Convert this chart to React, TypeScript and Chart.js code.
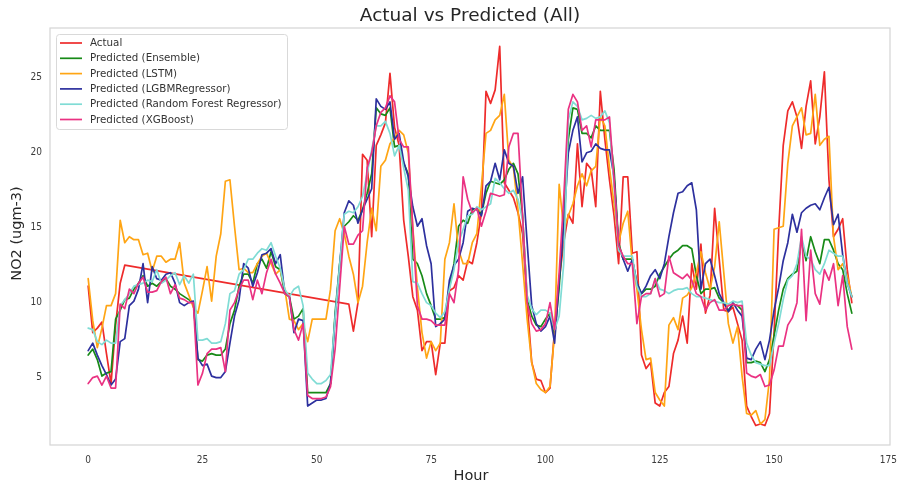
import React, { useEffect, useRef } from "react";
import { Chart, registerables } from "chart.js";

Chart.register(...registerables);

// Hourly NO2 (ugm-3): measured values and model predictions, hours 0..167.
// Measured values are missing for hours 9-56 (the line spans the gap).
const actual = [
  11.1, 8.0, 8.3, 8.7, 6.6, 4.6, 8.5, 11.3, 12.5, null, null, null,
  null, null, null, null, null, null, null, null, null, null, null, null,
  null, null, null, null, null, null, null, null, null, null, null, null,
  null, null, null, null, null, null, null, null, null, null, null, null,
  null, null, null, null, null, null, null, null, null, 9.9, 8.1, 10.0,
  19.9, 19.5, 14.4, 20.5, 21.2, 22.0, 25.3, 21.7, 20.5, 15.5, 13.1, 10.4,
  9.5, 6.8, 7.4, 7.4, 5.2, 7.3, 7.3, 10.8, 11.0, 11.8, 11.5, 12.8,
  12.6, 14.0, 16.0, 24.1, 23.3, 24.2, 27.1, 18.0, 17.5, 17.0, 16.0, 14.6,
  10.0, 6.0, 4.9, 4.8, 4.0, 4.3, 8.2, 11.5, 14.0, 15.9, 15.3, 20.6,
  16.4, 19.3, 18.9, 16.4, 24.1, 20.9, 18.2, 15.8, 12.6, 18.4, 18.4, 13.3,
  13.4, 6.5, 5.6, 6.0, 3.3, 3.1, 4.0, 4.4, 6.6, 7.5, 9.1, 7.3,
  12.6, 10.9, 13.9, 9.3, 10.5, 16.3, 12.9, 9.5, 9.4, 9.7, 8.6, 7.5,
  3.1, 2.4, 1.8, 1.9, 1.8, 2.6, 8.0, 14.8, 20.5, 22.8, 23.4, 22.4,
  20.3, 23.1, 24.8, 20.6, 22.4, 25.4, 18.2, 14.4, 14.9, 15.6, 12.2, 10.0,
];

const ensemble = [
  6.5, 6.9, 6.2, 5.1, 5.3, 5.4, 8.9, 9.5, 10.2, 10.3, 10.9, 11.3,
  11.8, 11.1, 11.3, 11.1, 11.4, 11.6, 11.1, 10.9, 10.6, 10.4, 10.2, 10.0,
  6.2, 6.1, 6.5, 6.6, 6.5, 6.5, 6.9, 8.6, 9.5, 11.1, 11.9, 11.9,
  11.3, 12.6, 12.9, 12.3, 13.4, 12.4, 12.2, 10.6, 10.4, 8.9, 9.1, 9.6,
  4.0, 4.0, 4.0, 4.0, 4.0, 4.6, 9.3, 12.6, 15.1, 15.4, 15.8, 15.5,
  16.2, 17.3, 18.6, 23.0, 22.6, 22.5, 23.0, 20.4, 20.5, 19.3, 18.6, 12.9,
  12.6, 11.8, 10.6, 9.8, 8.9, 8.9, 9.0, 11.0, 12.6, 15.1, 15.5, 15.3,
  16.2, 16.3, 15.9, 17.3, 18.1, 18.0, 17.9, 18.2, 18.9, 19.3, 18.6, 15.8,
  10.2, 9.1, 8.5, 8.4, 8.9, 9.3, 7.8, 11.0, 15.5, 20.9, 23.0, 22.9,
  21.3, 21.3, 21.0, 21.8, 21.5, 21.5, 21.5, 18.9, 14.0, 12.9, 12.9, 12.9,
  11.3, 10.6, 10.9, 10.9, 11.1, 11.9, 12.4, 12.9, 13.3, 13.5, 13.8, 13.8,
  13.6, 11.8, 10.6, 10.9, 10.9, 11.0, 10.3, 10.0, 9.5, 9.9, 9.8, 9.5,
  6.0, 6.0, 6.1, 6.0, 5.4, 6.2, 7.8, 9.5, 10.9, 11.6, 11.9, 12.1,
  14.2, 12.8, 14.4, 13.4, 12.6, 14.2, 14.2, 13.5, 12.6, 12.2, 10.6, 9.3,
];

const lstm = [
  11.6, 8.8, 7.0, 8.3, 9.8, 9.8, 10.6, 15.5, 14.0, 14.4, 14.2, 14.2,
  13.2, 13.3, 12.1, 13.1, 13.1, 12.7, 12.9, 12.9, 14.0, 11.3, 10.5, 9.7,
  9.3, 10.8, 12.4, 10.1, 13.1, 14.6, 18.1, 18.2, 15.1, 12.2, 12.3, 12.0,
  12.0, 12.6, 13.1, 13.3, 12.6, 11.9, 12.2, 10.9, 8.9, 8.8, 8.2, 8.6,
  7.4, 8.9, 8.9, 8.9, 8.9, 10.9, 14.8, 15.6, 14.6, 13.1, 11.9, 10.0,
  11.1, 14.0, 16.3, 14.8, 19.1, 19.5, 20.6, 21.0, 21.5, 21.2, 20.0, 15.0,
  11.0, 8.0, 6.3, 7.4, 6.8, 7.3, 12.9, 14.0, 16.6, 13.5, 12.6, 12.6,
  14.0, 14.6, 17.8, 21.3, 21.5, 22.2, 22.5, 23.9, 19.5, 19.0, 16.2, 12.6,
  8.9, 6.0, 4.6, 4.2, 4.0, 4.4, 8.0, 17.9, 14.9, 15.8, 16.6, 17.8,
  18.6, 17.8, 18.8, 19.1, 22.4, 21.8, 19.0, 16.6, 14.0, 15.3, 16.1, 12.6,
  10.9, 8.2, 6.2, 6.3, 4.0, 3.5, 3.1, 8.5, 9.0, 8.2, 10.3, 10.5,
  11.0, 12.0, 13.4, 12.0, 10.9, 12.4, 15.4, 12.0, 8.6, 7.3, 8.4, 5.1,
  2.6, 2.5, 2.8, 1.9, 2.2, 4.9, 14.9, 15.0, 15.1, 19.3, 21.8, 22.4,
  23.0, 21.2, 21.3, 23.9, 20.5, 20.9, 21.1, 14.4, 12.2, 12.6, 11.8, 10.4,
];

const lgbm = [
  6.8, 7.3, 6.5, 5.8, 5.2, 4.5, 4.9, 7.4, 7.6, 9.8, 10.1, 10.9,
  12.6, 10.0, 12.4, 11.6, 11.5, 11.9, 12.0, 11.3, 10.0, 9.8, 10.0, 10.1,
  6.3, 5.8, 5.9, 5.1, 5.0, 5.0, 5.4, 7.3, 9.1, 10.2, 12.6, 12.3,
  11.1, 12.0, 13.2, 13.3, 13.6, 12.6, 13.2, 10.6, 10.4, 8.0, 8.9, 8.8,
  3.1, 3.3, 3.5, 3.5, 3.6, 4.6, 9.0, 12.5, 16.0, 16.8, 16.5, 15.3,
  16.2, 16.9, 17.6, 23.6, 23.1, 22.9, 23.4, 20.9, 21.3, 19.4, 18.4, 16.4,
  15.1, 15.6, 13.8, 12.6, 8.4, 8.6, 8.9, 11.5, 12.5, 12.9, 14.0, 16.1,
  16.3, 16.2, 15.8, 17.8, 18.1, 19.3, 18.2, 20.2, 19.3, 19.1, 17.3, 18.4,
  14.0, 9.8, 8.6, 8.1, 8.4, 9.1, 7.3, 11.5, 15.1, 20.0, 21.5, 22.4,
  19.4, 20.0, 20.1, 20.6, 20.3, 20.2, 20.2, 18.4, 13.8, 12.9, 12.1, 12.9,
  11.3, 10.6, 11.1, 11.8, 12.2, 11.6, 12.6, 14.4, 16.0, 17.3, 17.4, 17.8,
  18.0, 16.2, 10.9, 12.6, 12.9, 11.8, 10.6, 10.0, 9.4, 10.0, 9.5, 9.1,
  6.3, 6.2, 6.9, 7.4, 6.2, 7.5, 9.5, 11.0, 12.8, 14.0, 15.9, 14.7,
  16.0, 16.3, 16.5, 16.6, 16.2, 17.0, 17.7, 15.2, 15.9, 13.2, 11.3, 10.4,
];

const randomForest = [
  8.3, 8.2, 7.4, 7.2, 7.5, 7.3, 7.3, 9.8, 10.2, 10.6, 11.1, 11.2,
  11.3, 11.5, 11.4, 12.2, 11.3, 11.5, 11.8, 12.0, 11.2, 11.8, 11.3, 11.9,
  7.5, 7.5, 7.6, 7.3, 7.3, 7.4, 8.6, 10.6, 10.8, 11.9, 12.2, 12.9,
  12.9, 13.3, 13.6, 13.5, 14.0, 13.1, 12.3, 10.9, 10.4, 10.9, 11.1, 9.8,
  5.3, 4.9, 4.6, 4.6, 4.8, 5.2, 9.0, 12.5, 15.9, 16.1, 16.0, 16.4,
  17.1, 18.6, 20.2, 21.8, 21.8, 22.1, 21.3, 19.8, 20.5, 19.0, 17.5, 11.4,
  11.3, 10.6, 10.0, 9.8, 9.3, 9.0, 9.4, 10.9, 12.2, 14.0, 14.9, 15.8,
  15.9, 16.4, 16.2, 16.4, 16.6, 18.3, 18.0, 17.6, 17.3, 17.5, 16.9, 15.5,
  10.5, 9.6, 9.2, 9.5, 9.5, 9.3, 8.2, 9.1, 12.6, 22.2, 23.4, 23.1,
  22.2, 22.3, 22.5, 22.3, 22.4, 22.8, 22.0, 17.8, 13.5, 13.1, 13.1, 13.1,
  11.1, 10.4, 10.4, 10.6, 11.6, 10.9, 10.8, 10.6, 10.8, 10.9, 10.9, 11.0,
  10.6, 10.4, 10.4, 10.3, 10.2, 10.1, 10.0, 10.0, 9.9, 10.1, 10.0, 10.1,
  7.3, 6.5, 6.0, 5.9, 5.8, 5.8, 7.3, 8.6, 10.2, 11.5, 11.8, 12.6,
  14.4, 13.1, 12.9, 12.2, 11.9, 12.6, 13.5, 13.3, 13.1, 13.1, 11.3, 10.4,
];

const xgboost = [
  4.6, 5.0, 5.1, 4.5, 5.1, 4.3, 4.3, 9.9, 9.6, 10.9, 10.6, 11.3,
  11.7, 10.7, 10.7, 10.8, 11.4, 11.7, 10.6, 11.2, 10.3, 10.2, 10.0, 10.0,
  4.5, 5.3, 6.6, 6.9, 6.9, 7.0, 5.4, 9.5, 10.0, 10.9, 11.5, 11.5,
  10.2, 11.5, 10.6, 12.0, 12.9, 11.9, 11.3, 10.6, 10.4, 8.2, 7.5, 8.6,
  3.8, 3.6, 3.6, 3.6, 3.7, 4.4, 6.9, 11.0, 15.1, 13.9, 13.9, 14.5,
  14.8, 19.0, 20.0, 21.8, 22.7, 23.0, 23.8, 23.4, 20.9, 20.4, 20.4, 14.9,
  9.8, 8.9, 8.9, 8.8, 8.5, 8.5, 8.5, 10.6, 10.0, 12.2, 18.4, 16.9,
  16.0, 16.3, 15.1, 16.1, 17.3, 17.2, 17.1, 17.2, 20.4, 21.3, 21.3, 15.8,
  10.0, 8.6, 8.1, 8.2, 8.6, 10.0, 8.2, 12.0, 17.0, 22.9, 23.9, 23.4,
  21.5, 21.8, 20.4, 22.2, 22.2, 22.2, 22.4, 18.2, 13.8, 13.1, 12.6, 12.6,
  8.6, 10.4, 10.6, 10.6, 11.6, 10.4, 10.6, 13.1, 12.0, 11.8, 11.6, 11.9,
  11.5, 10.6, 10.4, 9.5, 10.0, 10.2, 9.5, 9.5, 9.8, 9.9, 9.8, 9.8,
  5.3, 5.1, 5.0, 5.2, 4.4, 4.5, 5.5, 7.1, 7.1, 8.5, 9.0, 10.0,
  14.9, 8.8, 13.5, 10.6, 9.9, 12.2, 11.5, 12.6, 9.8, 11.8, 8.4, 6.9,
];

const seriesLabels = [
  "Actual",
  "Predicted (Ensemble)",
  "Predicted (LSTM)",
  "Predicted (LGBMRegressor)",
  "Predicted (Random Forest Regressor)",
  "Predicted (XGBoost)",
];
const seriesColors = ["#ee2b2b", "#178a17", "#ffa514", "#2d309e", "#80dcd5", "#ea3282"];

const xTicks = [0, 25, 50, 75, 100, 125, 150, 175];
const yTicks = [5, 10, 15, 20, 25];

const FONT = '"DejaVu Sans", "Liberation Sans", sans-serif';
const TICK_FONT = '"DejaVu Sans Condensed", "DejaVu Sans", sans-serif';
const TEXT = "#262626";

export default function App() {
  const ref = useRef<HTMLCanvasElement>(null);

  useEffect(() => {
    const canvas = ref.current;
    if (!canvas) return;
    const values = [actual, ensemble, lstm, lgbm, randomForest, xgboost];
    const hours = actual.map((_, i) => i);

    const datasets = values.map((vals, i) => ({
      label: seriesLabels[i],
      data: hours.map((h, j) => ({ x: h, y: vals[j] })),
      borderColor: seriesColors[i],
      backgroundColor: seriesColors[i],
      borderWidth: 1.7,
      borderJoinStyle: "round" as const,
      borderCapStyle: "round" as const,
      pointRadius: 0,
      pointHoverRadius: 0,
      tension: 0,
      fill: false,
      spanGaps: true,
      // later series are painted on top
      order: values.length - 1 - i,
    }));

    const framePlugin = {
      id: "frame",
      beforeDatasetsDraw(chart: any) {
        const { ctx, chartArea: a } = chart;
        ctx.save();
        ctx.strokeStyle = "#d4d4d4";
        ctx.lineWidth = 1.2;
        ctx.strokeRect(a.left, a.top, a.right - a.left, a.bottom - a.top);
        ctx.restore();
      },
    };

    const decorPlugin = {
      id: "decor",
      afterDraw(chart: any) {
        const { ctx, chartArea: a } = chart;
        const cx = (a.left + a.right) / 2;
        ctx.save();
        ctx.fillStyle = TEXT;
        ctx.textAlign = "center";
        ctx.textBaseline = "middle";

        ctx.font = `18.5px ${FONT}`;
        ctx.fillText("Actual vs Predicted (All)", cx, 16);

        ctx.font = `14.5px ${FONT}`;
        ctx.fillText("Hour", cx + 1, 476);

        ctx.save();
        ctx.translate(17.5, (a.top + a.bottom) / 2 - 3);
        ctx.rotate(-Math.PI / 2);
        ctx.fillText("NO2 (ugm-3)", 0, 0);
        ctx.restore();

        // legend box in the upper-left corner of the plot
        const bx = a.left + 6.5;
        const by = a.top + 6.5;
        const bw = 231;
        const bh = 95;
        ctx.beginPath();
        ctx.roundRect(bx, by, bw, bh, 3);
        ctx.fillStyle = "rgba(255,255,255,0.85)";
        ctx.fill();
        ctx.strokeStyle = "#d9d9d9";
        ctx.lineWidth = 1;
        ctx.stroke();

        ctx.font = `10.3px ${FONT}`;
        ctx.textAlign = "left";
        seriesLabels.forEach((label, i) => {
          const y = by + 8.5 + i * 15.3;
          ctx.beginPath();
          ctx.moveTo(bx + 3.5, y);
          ctx.lineTo(bx + 25.5, y);
          ctx.strokeStyle = seriesColors[i];
          ctx.lineWidth = 1.7;
          ctx.stroke();
          ctx.fillStyle = "#333333";
          ctx.fillText(label, bx + 33.5, y + 0.5);
        });
        ctx.restore();
      },
    };

    const chart = new Chart(canvas, {
      type: "line",
      data: { datasets },
      options: {
        responsive: false,
        animation: false,
        events: [],
        layout: { padding: { left: 0, right: 12, top: 28, bottom: 0 } },
        plugins: {
          legend: { display: false },
          title: { display: false },
          tooltip: { enabled: false },
        },
        scales: {
          x: {
            type: "linear",
            min: -8.35,
            max: 175.35,
            grid: { display: false, drawTicks: false },
            border: { display: false },
            ticks: {
              autoSkip: false,
              maxRotation: 0,
              padding: 9,
              color: "#3c3c3c",
              font: { family: TICK_FONT, size: 10 },
            },
            afterBuildTicks(scale: any) {
              scale.ticks = xTicks.map((value) => ({ value }));
            },
            afterFit(scale: any) {
              scale.height = 41;
              scale.paddingLeft = 0;
              scale.paddingRight = 0;
            },
          },
          y: {
            type: "linear",
            min: 0.5,
            max: 28.33,
            grid: { display: false, drawTicks: false },
            border: { display: false },
            ticks: {
              autoSkip: false,
              padding: 8,
              color: "#3c3c3c",
              font: { family: TICK_FONT, size: 10 },
            },
            afterBuildTicks(scale: any) {
              scale.ticks = yTicks.map((value) => ({ value }));
            },
            afterFit(scale: any) {
              scale.width = 50;
              scale.paddingTop = 0;
              scale.paddingBottom = 0;
            },
          },
        },
      },
      plugins: [framePlugin, decorPlugin],
    } as any);

    return () => chart.destroy();
  }, []);

  return (
    <div style={{ position: "fixed", left: 0, top: 0, width: 902, height: 486, background: "#ffffff" }}>
      <canvas ref={ref} width={902} height={486} style={{ display: "block", width: 902, height: 486 }} />
    </div>
  );
}
